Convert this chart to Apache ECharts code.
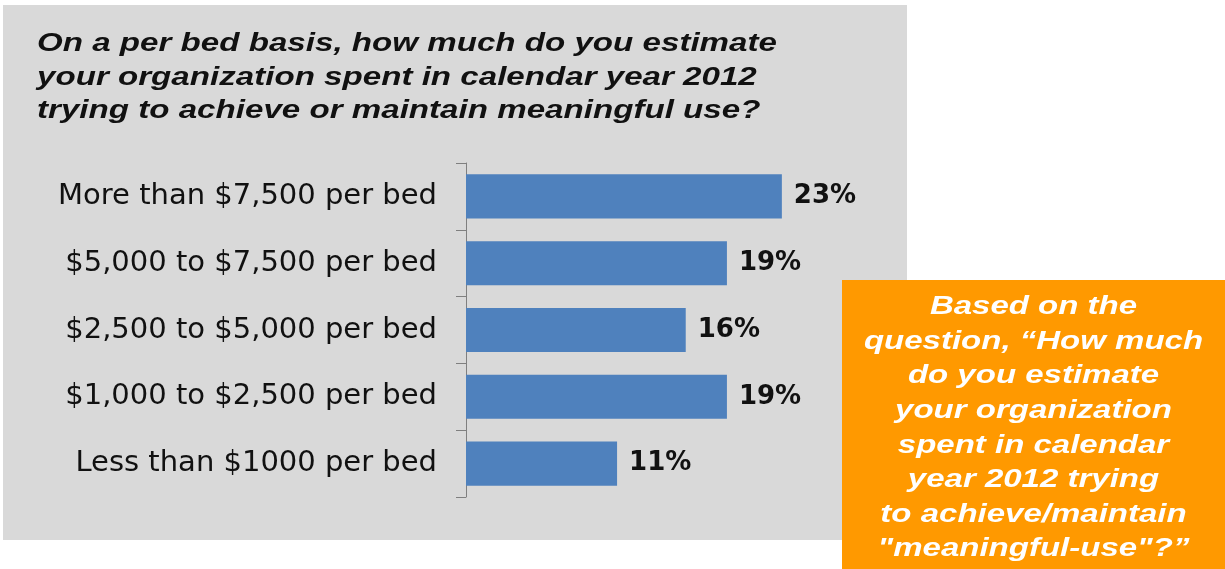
<!DOCTYPE html>
<html>
<head>
<meta charset="utf-8">
<title>Meaningful use spending per bed, 2012</title>
<script src="https://cdn.jsdelivr.net/npm/echarts@6/dist/echarts.min.js"></script>
<style>
  html, body { margin: 0; padding: 0; background: #ffffff; }
  #chart { width: 1225px; height: 569px; }
</style>
</head>
<body>
<div id="chart"></div>
<script>
// Survey answer ranges, top to bottom
const categories = [
  'More than $7,500 per bed',
  '$5,000 to $7,500 per bed',
  '$2,500 to $5,000 per bed',
  '$1,000 to $2,500 per bed',
  'Less than $1000 per bed'
];
// Share of respondents (%)
const shares = [23, 19, 16, 19, 11];

const titleLines = [
  'On a per bed basis, how much do you estimate',
  'your organization spent in calendar year 2012',
  'trying to achieve or maintain meaningful use?'
];

const noteLines = [
  'Based on the',
  'question, \u201CHow much',
  'do you estimate',
  'your organization',
  'spent in calendar',
  'year 2012 trying',
  'to achieve/maintain',
  '"meaningful-use"?\u201D'
];

const chart = echarts.init(document.getElementById('chart'), null, { renderer: 'canvas' });

const sansFace = '"Liberation Sans", Arial, sans-serif';
const labelFace = '"DejaVu Sans", sans-serif';

chart.setOption({
  backgroundColor: '#ffffff',
  animation: false,
  grid: { left: 466, top: 163, width: 412, height: 334, containLabel: false },
  xAxis: {
    type: 'value',
    min: 0,
    max: 30,
    show: false
  },
  yAxis: {
    type: 'category',
    data: categories,
    inverse: true,
    axisLine: { show: true, lineStyle: { color: '#7f7f7f', width: 1 } },
    axisTick: { show: true, length: 10, lineStyle: { color: '#7f7f7f', width: 1 } },
    axisLabel: {
      margin: 29,
      fontFamily: labelFace,
      fontSize: 29,
      color: '#111111'
    },
    splitLine: { show: false }
  },
  series: [{
    type: 'bar',
    data: shares,
    barCategoryGap: '34%',
    itemStyle: { color: '#4f81bd' },
    label: {
      show: true,
      position: 'right',
      distance: 12,
      formatter: '{c}%',
      fontFamily: labelFace,
      fontWeight: 'bold',
      fontSize: 26,
      color: '#111111'
    },
    z: 2
  }],
  graphic: {
    elements: [
      // grey panel behind the chart
      {
        type: 'rect',
        z: -10,
        shape: { x: 3, y: 5, width: 904, height: 535 },
        style: { fill: '#d9d9d9' }
      },
      // question heading, widened to fill the panel
      {
        type: 'text',
        z: 5,
        x: 37,
        y: 27,
        scaleX: 1.25,
        style: {
          text: titleLines.join('\n'),
          fontFamily: sansFace,
          fontStyle: 'italic',
          fontWeight: 'bold',
          fontSize: 26.5,
          lineHeight: 33.5,
          fill: '#111111'
        }
      },
      // orange call-out box
      {
        type: 'rect',
        z: 50,
        shape: { x: 842, y: 280, width: 383, height: 289 },
        style: { fill: '#ff9900' }
      },
      {
        type: 'text',
        z: 51,
        x: 1033.5,
        y: 290,
        scaleX: 1.32,
        style: {
          text: noteLines.join('\n'),
          align: 'center',
          fontFamily: sansFace,
          fontStyle: 'italic',
          fontWeight: 'bold',
          fontSize: 25,
          lineHeight: 34.6,
          fill: '#ffffff'
        }
      }
    ]
  }
});
</script>
</body>
</html>
